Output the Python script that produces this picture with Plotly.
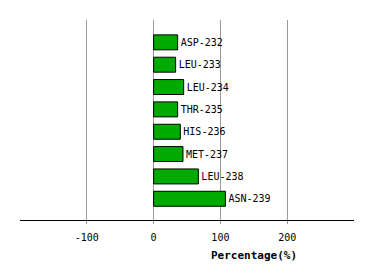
import plotly.graph_objects as go

residues = ["ASP-232", "LEU-233", "LEU-234", "THR-235", "HIS-236", "MET-237", "LEU-238", "ASN-239"]
percent = [36, 33, 45, 36, 40, 44, 67, 107.5]
tick_vals = [-100, 0, 100, 200]
tick_text = ["-100", "0", "100", "200"]

ypos = list(range(len(residues)))

fig = go.Figure()
fig.add_trace(go.Bar(
    x=percent, y=ypos, orientation="h",
    marker=dict(color="#00AA00", line=dict(color="black", width=1)),
    width=0.67,
    text=residues, textposition="outside",
    textfont=dict(family="DejaVu Sans Mono", size=10, color="black"),
    cliponaxis=False,
))
fig.update_layout(
    width=374, height=280,
    margin=dict(l=20, r=20, t=20, b=60),
    plot_bgcolor="white", paper_bgcolor="white",
    showlegend=False,
    xaxis=dict(
        range=[-200, 300],
        tickvals=tick_vals, ticktext=tick_text,
        showgrid=True, gridcolor="#999999", gridwidth=1,
        zeroline=False,
        showline=True, linecolor="black", linewidth=1,
        ticks="outside", ticklen=3, tickcolor="#999999",
        ticklabelstandoff=5,
        tickfont=dict(family="DejaVu Sans Mono", size=10, color="black"),
    ),
    yaxis=dict(
        range=[7.95, -1.0],
        showticklabels=False, showgrid=False, zeroline=False, showline=False,
    ),
    annotations=[dict(
        text="<b>Percentage(%)</b>",
        x=(254 - 20) / 334, y=-(255 - 220) / 200, xref="paper", yref="paper",
        xanchor="center", yanchor="middle",
        showarrow=False, font=dict(family="DejaVu Sans Mono", size=11, color="black"),
    )],
)
fig.write_html("out.html")
